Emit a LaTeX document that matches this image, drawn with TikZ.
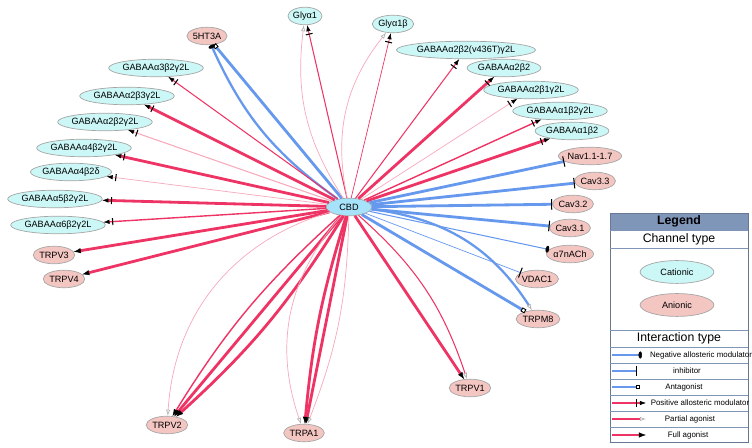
\documentclass[tikz,border=0pt]{standalone}
\usepackage{fontspec}
\setmainfont{Liberation Sans}
\usetikzlibrary{arrows.meta,shapes.geometric}
\definecolor{cat}{HTML}{CCF7F7}
\definecolor{ani}{HTML}{F4C6C2}
\definecolor{pos}{HTML}{EE3464}
\definecolor{lpos}{HTML}{F7A8BA}
\definecolor{neg}{HTML}{6699EE}
\definecolor{hdr}{HTML}{8096B8}
\tikzset{
  ch/.style={ellipse,draw=gray!70,inner sep=0pt,minimum height=10pt,font=\fontsize{5.2}{6}\selectfont},
  cat/.style={ch,fill=cat},
  ani/.style={ch,fill=ani},
  pam/.style={draw=pos,-{Bar[black,width=4pt,sep=1.5pt,line width=0.6pt]Latex[black,length=3.5pt,width=2.5pt,line width=0.3pt]}},
  full/.style={draw=pos,-{Latex[black,length=4pt,width=3pt,line width=0.3pt]}},
  part/.style={draw=lpos,-{Latex[open,black!30,length=3.5pt,width=2.5pt,line width=0.4pt]}},
  inh/.style={draw=neg,-{Bar[black,width=6pt,line width=0.6pt]}},
  ant/.style={draw=neg,-{Square[open,black,length=2.5pt,width=2.5pt,line width=0.5pt]}},
  nam/.style={draw=neg,-{Circle[black,length=2pt,width=4pt,line width=0.3pt]}},
  lgtext/.style={font=\fontsize{4.5}{5}\selectfont},
}
\begin{document}
\begin{tikzpicture}[x=0.02cm,y=-0.02cm]
\useasboundingbox (0,0) rectangle (752,448);

% channels
\node[cat,fill=cyan!35,minimum width=26pt] (cbd) at (349,207) {CBD};
\node[ani] (ht) at (207,36) {5HT3A};
\node[cat] (gly1) at (305,16) {Glyα1};
\node[cat] (gly1b) at (393,24) {Glyα1β};
\node[cat] (g1) at (466,50) {GABAAα2β2(v436T)γ2L};
\node[cat] (g2) at (504,68) {GABAAα2β2};
\node[cat] (g3) at (531,90) {GABAAα2β1γ2L};
\node[cat] (g4) at (560,111) {GABAAα1β2γ2L};
\node[cat] (g5) at (572,131) {GABAAα1β2};
\node[ani] (nav) at (590,156) {Nav1.1-1.7};
\node[ani] (c33) at (595,181) {Cav3.3};
\node[ani] (c32) at (573,204) {Cav3.2};
\node[ani] (c31) at (570,228) {Cav3.1};
\node[ani] (nach) at (570,254) {α7nACh};
\node[ani] (vdac) at (537,279) {VDAC1};
\node[ani] (m8) at (538,319) {TRPM8};
\node[cat] (l1) at (156,68) {GABAAα3β2γ2L};
\node[cat] (l2) at (127,96) {GABAAα2β3γ2L};
\node[cat] (l3) at (105,122) {GABAAα2β2γ2L};
\node[cat] (l4) at (84,148) {GABAAα4β2γ2L};
\node[cat] (l5) at (71,172) {GABAAα4β2δ};
\node[cat] (l6) at (55,199) {GABAAα5β2γ2L};
\node[cat] (l7) at (58,225) {GABAAα6β2γ2L};
\node[ani] (v3) at (54,255) {TRPV3};
\node[ani] (v4) at (64,279) {TRPV4};
\node[ani] (v2) at (167,425) {TRPV2};
\node[ani] (a1) at (304,433) {TRPA1};
\node[ani] (v1) at (470,388) {TRPV1};

% interactions
\draw[ant,line width=1.6pt] (cbd) -- (ht);
\draw[nam,line width=1.3pt] (cbd) to[bend left=15] (ht);
\draw[pam,semithick] (cbd) -- (gly1);
\draw[part,thin] (cbd) to[bend left=20] (gly1);
\draw[pam,thin] (cbd) -- (gly1b);
\draw[part,thin] (cbd) to[bend left=25] (gly1b);
\draw[pam,semithick] (cbd) -- (g1);
\draw[pam,line width=1.6pt] (cbd) -- (g2);
\draw[pam,draw=lpos,thin] (cbd) -- (g3);
\draw[pam,thick] (cbd) -- (g4);
\draw[pam,line width=1.6pt] (cbd) -- (g5);
\foreach \t in {nav,c33,c32,c31}
  \draw[inh,line width=1.6pt] (cbd) -- (\t);
\draw[nam,semithick] (cbd) -- (nach);
\draw[inh,thin] (cbd) -- (vdac);
\draw[ant,line width=1.6pt] (cbd) -- (m8);
\draw[part,draw=neg,line width=1.3pt] (cbd) to[bend left=25] (m8);
\draw[pam,semithick] (cbd) -- (l1);
\draw[pam,line width=1.6pt] (cbd) -- (l2);
\draw[pam,draw=lpos,semithick] (cbd) -- (l3);
\draw[pam,line width=1.6pt] (cbd) -- (l4);
\draw[pam,draw=lpos,thin] (cbd) -- (l5);
\draw[pam,line width=1.6pt] (cbd) -- (l6);
\draw[pam,thick] (cbd) -- (l7);
\draw[full,line width=1.6pt] (cbd) -- (v3);
\draw[full,line width=1.6pt] (cbd) -- (v4);
\draw[full,line width=1.6pt] (cbd) -- (v2);
\draw[full,line width=1.6pt] (cbd) to[bend left=8] (v2);
\draw[full,thick] (cbd) to[bend right=8] (v2);
\draw[part,thin] (cbd) to[bend right=35] (v2);
\draw[full,line width=1.6pt] (cbd) -- (a1);
\draw[full,line width=1.6pt] (cbd) to[bend right=6] (a1);
\draw[part,thin] (cbd) to[bend left=10] (a1);
\draw[part,thin] (cbd) to[bend right=30] (a1);
\draw[full,line width=1.6pt] (cbd) -- (v1);
\draw[part,draw=pos,semithick] (cbd) to[bend left=15] (v1);

% legend
\fill[hdr] (610,213) rectangle (748,230);
\draw[hdr!80!black] (610,213) rectangle (748,442);
\foreach \y in {230,248,330,347,363,379,395,411,427}
  \draw[hdr] (610,\y) -- (748,\y);
\node[font=\fontsize{7}{8}\selectfont\bfseries] (lg) at (679,221.5) {Legend};
\node[font=\fontsize{7}{8}\selectfont] (lct) at (679,239) {Channel type};
\node[cat,minimum width=42pt,minimum height=13pt] (lcat) at (677,272) {Cationic};
\node[ani,minimum width=42pt,minimum height=13pt] (lani) at (677,305) {Anionic};
\node[font=\fontsize{7}{8}\selectfont] (lit) at (679,338.5) {Interaction type};
\coordinate (s1) at (612,355); \coordinate (e1) at (642,355);
\coordinate (s2) at (612,371); \coordinate (e2) at (637,371);
\coordinate (s3) at (612,387); \coordinate (e3) at (640,387);
\coordinate (s4) at (612,403); \coordinate (e4) at (646,403);
\coordinate (s5) at (612,419); \coordinate (e5) at (646,419);
\coordinate (s6) at (612,435); \coordinate (e6) at (646,435);
\draw[nam,line width=1.3pt] (s1) -- (e1);
\draw[inh,line width=1.3pt] (s2) -- (e2);
\draw[ant,line width=1.3pt] (s3) -- (e3);
\draw[pam,line width=1.3pt] (s4) -- (e4);
\draw[part,draw=pos,line width=1.3pt] (s5) -- (e5);
\draw[full,line width=1.3pt] (s6) -- (e6);
\node[lgtext] (t1) at (701,355) {Negative allosteric modulator};
\node[lgtext] (t2) at (687,371) {inhibitor};
\node[lgtext] (t3) at (684,387) {Antagonist};
\node[lgtext] (t4) at (700,403) {Positive allosteric modulator};
\node[lgtext] (t5) at (690,419) {Partial agonist};
\node[lgtext] (t6) at (688,435) {Full agonist};
\end{tikzpicture}
\end{document}
